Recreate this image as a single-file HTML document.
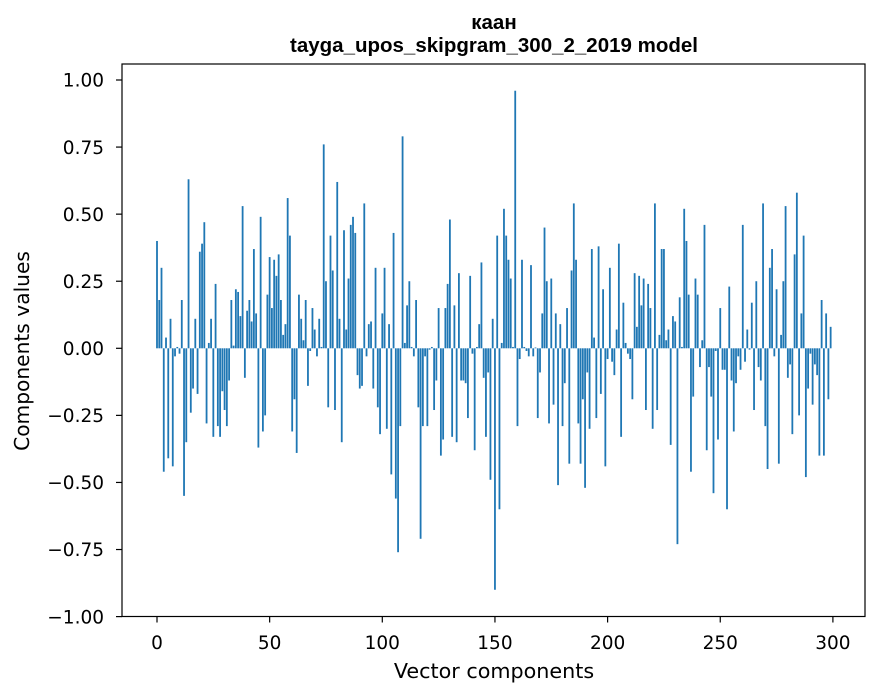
<!DOCTYPE html>
<html><head><meta charset="utf-8">
<style>
html,body{margin:0;padding:0;background:#fff;}
svg{display:block;font-family:"DejaVu Sans","Liberation Sans",sans-serif;}
</style></head>
<body>
<svg id="chart" width="880" height="696" viewBox="0 0 880 696">
  <rect width="880" height="696" fill="#fff"/>
  <text x="494" y="29" text-anchor="middle" font-size="20.5" font-weight="bold" font-family="Liberation Sans, Arial, sans-serif">каан</text>
  <text x="494" y="52" text-anchor="middle" font-size="20.5" font-weight="bold" font-family="Liberation Sans, Arial, sans-serif">tayga_upos_skipgram_300_2_2019 model</text>
  <g id="bars"></g>
  <g id="yticks"></g>
  <g id="xticks"></g>
  <rect x="122" y="64" width="743" height="552.5" fill="none" stroke="#000" stroke-width="1.2"/>
  <text x="494" y="678" text-anchor="middle" font-size="20.7">Vector components</text>
  <text transform="translate(29,351) rotate(-90)" text-anchor="middle" font-size="20.2">Components values</text>
</svg>
<script>
const values = [
0.40,0.18,0.30,-0.46,0.04,-0.41,0.11,-0.44,-0.03,0.005,
-0.02,0.18,-0.55,-0.35,0.63,-0.24,-0.15,0.11,-0.17,0.36,
0.39,0.47,-0.28,0.02,0.11,-0.33,0.24,-0.29,-0.33,-0.16,
-0.23,-0.29,-0.12,0.18,0.01,0.22,0.21,0.12,0.53,-0.11,
0.14,0.18,0.10,0.37,0.13,-0.37,0.49,-0.31,-0.25,0.20,
0.34,0.15,0.33,0.27,0.35,0.18,0.05,0.09,0.56,0.42,
-0.31,-0.19,-0.39,0.20,0.11,0.03,0.18,-0.14,-0.01,0.15,
0.07,-0.03,0.11,0.005,0.76,0.25,-0.22,0.42,0.29,-0.23,
0.62,0.11,-0.35,0.44,0.07,0.26,0.46,0.49,0.43,-0.10,
-0.15,-0.14,0.54,-0.03,0.09,0.10,-0.15,0.30,-0.22,-0.32,
0.13,0.30,-0.30,0.09,-0.47,0.43,-0.56,-0.76,-0.29,0.79,
0.02,0.16,0.25,0.005,-0.03,0.18,-0.22,-0.71,-0.29,-0.03,
-0.29,-0.005,0.005,-0.23,-0.12,0.15,-0.40,-0.34,0.15,0.24,
0.48,-0.33,0.16,-0.35,0.28,-0.12,-0.12,-0.13,-0.26,0.27,
-0.02,-0.38,0.005,0.09,0.32,-0.11,-0.33,-0.09,-0.49,0.11,
-0.90,0.42,-0.60,0.02,0.52,0.42,0.33,0.26,0.005,0.96,
-0.29,-0.04,0.33,0.005,-0.01,-0.03,0.31,-0.03,0.003,-0.26,
-0.09,0.13,0.45,0.25,-0.28,0.26,-0.21,0.13,-0.51,0.09,
-0.29,-0.13,0.15,-0.43,0.29,0.54,0.33,-0.28,-0.43,-0.19,
-0.52,-0.09,-0.30,0.37,0.04,-0.26,0.38,-0.17,0.22,-0.44,
-0.04,0.30,-0.05,-0.10,0.07,0.39,-0.33,0.17,0.02,-0.02,
-0.04,-0.19,0.28,0.08,0.27,0.16,0.26,-0.23,0.24,0.15,
-0.30,0.54,-0.23,0.05,0.37,0.37,0.03,0.07,-0.36,0.12,
0.10,-0.73,0.19,0.005,0.52,0.40,0.20,-0.46,-0.18,0.26,
0.20,-0.07,0.03,0.46,-0.38,-0.07,-0.18,-0.54,-0.01,-0.34,
0.15,-0.08,-0.08,-0.60,0.23,-0.12,-0.31,-0.13,-0.03,-0.08,
0.46,-0.05,0.07,-0.005,0.17,-0.23,0.25,-0.07,-0.12,0.54,
-0.29,-0.45,0.30,0.37,-0.03,0.22,-0.43,0.05,0.25,0.53,
-0.11,-0.06,-0.32,0.35,0.58,-0.25,0.13,0.42,-0.48,-0.15,
-0.02,-0.21,-0.06,-0.10,-0.40,0.18,-0.40,0.13,-0.19,0.08
];
const yTickValues = [1.00,0.75,0.50,0.25,0.00,-0.25,-0.50,-0.75,-1.00];
const yTickLabels = ["1.00","0.75","0.50","0.25","0.00","\u22120.25","\u22120.50","\u22120.75","\u22121.00"];
const xTickValues = [0,50,100,150,200,250,300];
const xTickLabels = ["0","50","100","150","200","250","300"];

const NS = "http://www.w3.org/2000/svg";
const X0 = 157, XS = 2.253;
const Y0 = 348.3, YS = 268.3;
function xScale(v){ return X0 + v*XS; }
function yScale(v){ return Y0 - v*YS; }

const bars = document.getElementById('bars');
values.forEach((v,i)=>{
  const r = document.createElementNS(NS,'rect');
  const w = 0.8*XS;
  r.setAttribute('x', xScale(i) - w/2);
  r.setAttribute('width', w);
  r.setAttribute('y', Math.min(yScale(v), yScale(0)));
  r.setAttribute('height', Math.max(Math.abs(yScale(v)-yScale(0)), 0.3));
  r.setAttribute('fill', '#1f77b4');
  
  
  bars.appendChild(r);
});

const yg = document.getElementById('yticks');
yTickValues.forEach((v,i)=>{
  const y = yScale(v);
  const l = document.createElementNS(NS,'line');
  l.setAttribute('x1',116); l.setAttribute('x2',122);
  l.setAttribute('y1',y); l.setAttribute('y2',y);
  l.setAttribute('stroke','#000'); l.setAttribute('stroke-width','1.2');
  
  
  yg.appendChild(l);
  const t = document.createElementNS(NS,'text');
  t.setAttribute('x',104); t.setAttribute('y',y+6.7);
  t.setAttribute('text-anchor','end'); t.setAttribute('font-size','18.5');
  t.textContent = yTickLabels[i];
  
  
  yg.appendChild(t);
});

const xg = document.getElementById('xticks');
xTickValues.forEach((v,i)=>{
  const x = xScale(v);
  const l = document.createElementNS(NS,'line');
  l.setAttribute('x1',x); l.setAttribute('x2',x);
  l.setAttribute('y1',616.5); l.setAttribute('y2',622.5);
  l.setAttribute('stroke','#000'); l.setAttribute('stroke-width','1.2');
  
  
  xg.appendChild(l);
  const t = document.createElementNS(NS,'text');
  t.setAttribute('x',x); t.setAttribute('y',649);
  t.setAttribute('text-anchor','middle'); t.setAttribute('font-size','18.5');
  t.textContent = xTickLabels[i];
  
  
  xg.appendChild(t);
});
</script>
</body></html>
